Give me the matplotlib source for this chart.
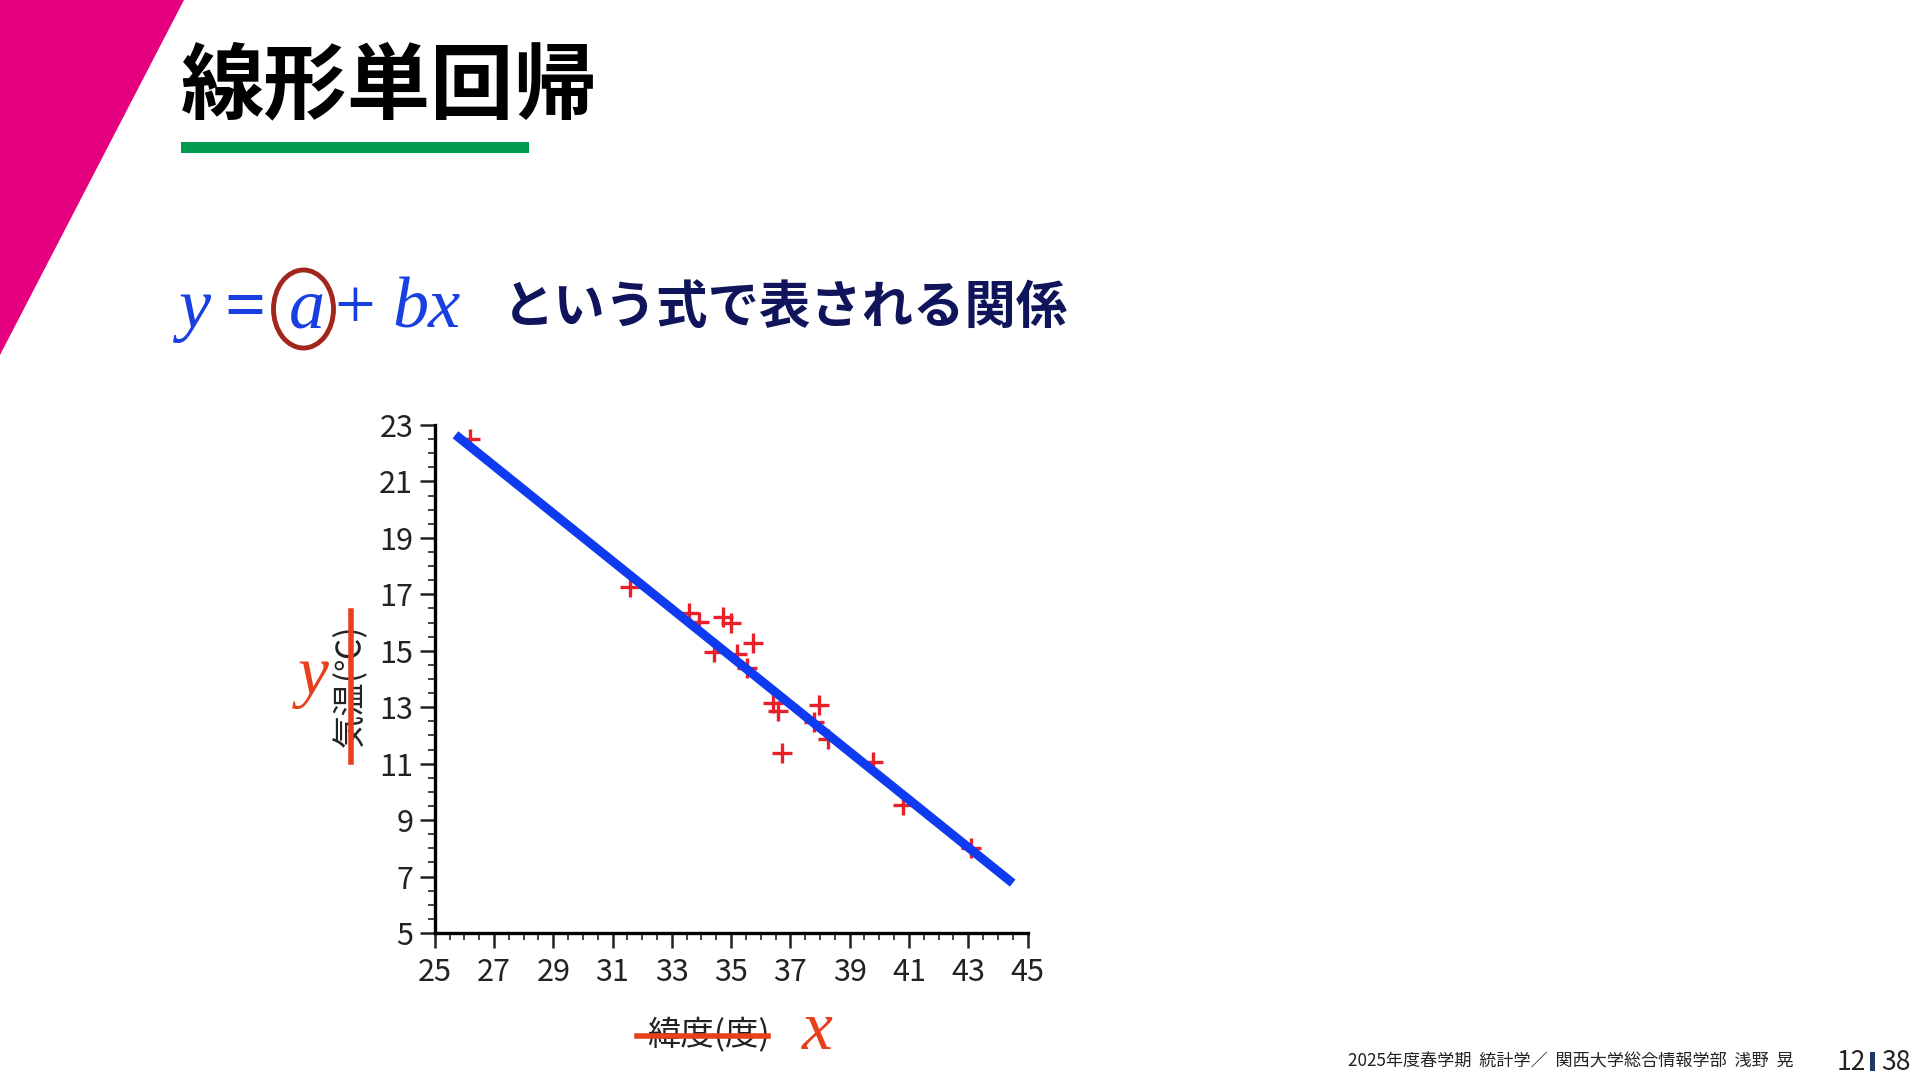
import numpy as np
import matplotlib
matplotlib.use('Agg')
import matplotlib.pyplot as plt
from matplotlib.patches import Polygon, Ellipse, Rectangle
from matplotlib.ticker import MultipleLocator

plt.rcParams['font.family'] = ['Noto Sans CJK JP', 'DejaVu Sans']

# latitude (deg) and mean temperature (C)
lat = [26.2, 31.6, 33.58, 33.91, 34.71, 35.01, 34.42, 35.74, 35.21, 35.52,
       36.42, 36.59, 36.71, 37.96, 37.80, 38.28, 39.80, 40.81, 43.10]
temp = [22.5, 17.27, 16.33, 16.03, 16.19, 16.00, 14.97, 15.29, 14.89, 14.38,
        13.16, 12.88, 11.37, 13.07, 12.49, 11.86, 11.05, 9.54, 8.00]
# regression line as drawn: y = a + b x
fit_a, fit_b = 44.37, -0.845
line_x = [25.7, 44.5]

xticks = np.arange(25, 46, 2)
yticks = np.arange(5, 24, 2)

title = '線形単回帰'
subtitle = 'という式で表される関係'
xlabel = '緯度(度)'
ylabel = '気温(℃)'
footer = '2025年度春学期  統計学／  関西大学総合情報学部  浅野  晃'
page_no, page_total = '12', '38'

W, H = 1920, 1080
fig = plt.figure(figsize=(W / 100, H / 100), dpi=100)

# scatter plot with fitted line
ax = fig.add_axes([434.7 / W, 1 - 933 / H, (1027.5 - 434.7) / W, (933 - 425) / H])
ax.plot(lat, temp, ls='none', marker='+', ms=15, mew=2.4, color='#E8202A', zorder=2)
lx = np.array(line_x)
ax.plot(lx, fit_a + fit_b * lx, color='#0F3BF0', lw=6.5, solid_capstyle='butt', zorder=3)

ax.set_xlim(25, 45)
ax.set_ylim(5, 23)
ax.set_xticks(xticks)
ax.set_yticks(yticks)
ax.xaxis.set_minor_locator(MultipleLocator(0.5))
ax.yaxis.set_minor_locator(MultipleLocator(0.5))
for s in ['top', 'right']:
    ax.spines[s].set_visible(False)
for s in ['left', 'bottom']:
    ax.spines[s].set_linewidth(2.4)
ax.tick_params(which='major', direction='out', length=10.5, width=1.8,
               labelsize=22, colors='#222222')
ax.tick_params(axis='x', which='major', pad=7)
ax.tick_params(axis='y', which='major', pad=5)
ax.tick_params(which='minor', direction='out', length=5, width=1.2, colors='#222222')
ax.set_xlabel(xlabel, fontsize=24, va='center', color='#222222')
ax.set_ylabel(ylabel, fontsize=24, va='center', color='#222222')
ax.xaxis.set_label_coords((709 - 434.7) / 592.8, (933 - 1035) / 508)
ax.yaxis.set_label_coords((351 - 434.7) / 592.8, (933 - 686) / 508)

# slide decorations in pixel coordinates
ov = fig.add_axes([0, 0, 1, 1], zorder=5)
ov.set_xlim(0, W)
ov.set_ylim(H, 0)
ov.axis('off')
ov.patch.set_visible(False)

ov.add_patch(Polygon([(0, 0), (184, 0), (0, 355)], closed=True, color='#E4007F', lw=0))
ov.text(181, 88, title, fontsize=60, fontweight='bold', va='center', ha='left', color='black')
ov.add_patch(Rectangle((181, 142), 348, 11, color='#009B4E', lw=0))

eq_kw = dict(fontsize=52, color='#1A3FE0', va='baseline', family='Liberation Serif')
ov.text(178, 328, 'y', style='italic', **eq_kw)
ov.text(224, 328, '=', fontweight='bold', **eq_kw)
ov.text(289, 328, 'a', style='italic', **eq_kw)
ov.text(334, 328, '+', **eq_kw)
ov.text(392, 328, 'bx', style='italic', **eq_kw)
ov.add_patch(Ellipse((303.5, 309), 60, 78, fill=False, ec='#A3261C', lw=3.5))
ov.text(503, 307, subtitle, fontsize=37, fontweight='bold', va='center', ha='left',
        color='#10145A')

red = '#E8401C'
ov.plot([637, 768], [1036, 1036], color=red, lw=4)
ov.plot([351, 351], [611, 762], color=red, lw=4)
ov.text(298, 694, 'y', fontsize=50, style='italic', color=red, va='baseline',
        family='Liberation Serif')
ov.text(802, 1049, 'x', fontsize=50, style='italic', color=red, va='baseline',
        family='Liberation Serif')

ov.text(1794, 1062, footer, fontsize=12.3, ha='right', va='center', color='#222222')
ov.text(1866, 1062, page_no, fontsize=19, ha='right', va='center', color='#222222')
ov.add_patch(Rectangle((1870, 1052), 5, 19, color='#1F3864', lw=0))
ov.text(1881, 1062, page_total, fontsize=19, ha='left', va='center', color='#222222')

fig.savefig('out.png', dpi=100, facecolor='white')
